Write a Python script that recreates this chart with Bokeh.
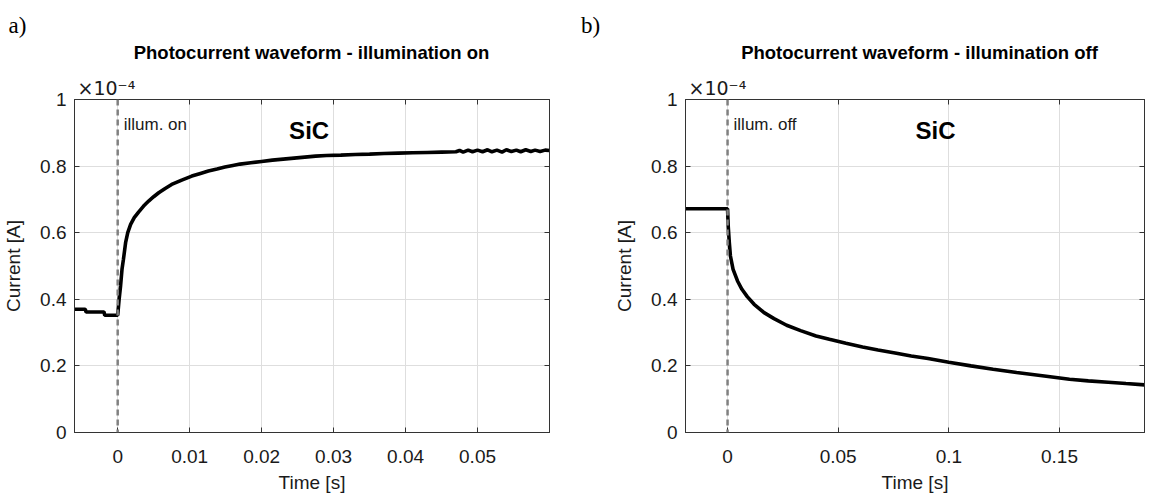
from bokeh.plotting import figure
from bokeh.models import Range1d, Span, Label, FixedTicker, Title, LinearAxis
from bokeh.layouts import row, column
from bokeh.embed import file_html
from bokeh.resources import INLINE

# ---------------- data (current in units of 1e-4 A) ----------------
t_on = [-0.006, -0.0045, -0.0044, -0.0019, -0.0018, 0.0, 0.0002, 0.0004, 0.0006,
        0.0008, 0.0011, 0.0014, 0.0018, 0.0023, 0.0029, 0.0036, 0.0043, 0.0050,
        0.0057, 0.0066, 0.0075, 0.0089, 0.0103, 0.0115, 0.0126, 0.0138, 0.0149,
        0.0160, 0.0170, 0.0185, 0.0200, 0.0215, 0.0230, 0.0245, 0.0260, 0.0275,
        0.0290, 0.0310, 0.0330, 0.0350, 0.0370, 0.0390, 0.0410, 0.0430, 0.0450,
        0.0470, 0.0475, 0.0480, 0.0487, 0.0493, 0.0500, 0.0507, 0.0514, 0.0520,
        0.0527, 0.0534, 0.0540, 0.0547, 0.0554, 0.0560, 0.0567, 0.0574, 0.0580,
        0.0587, 0.0594, 0.0600]
i_on = [0.370, 0.370, 0.362, 0.362, 0.352, 0.352, 0.400, 0.440, 0.490,
        0.520, 0.570, 0.600, 0.625, 0.645, 0.662, 0.680, 0.695, 0.708,
        0.720, 0.733, 0.745, 0.758, 0.770, 0.778, 0.785, 0.791, 0.797,
        0.802, 0.806, 0.810, 0.814, 0.818, 0.821, 0.824, 0.827, 0.830,
        0.832, 0.833, 0.835, 0.836, 0.838, 0.839, 0.840, 0.841, 0.842,
        0.843, 0.847, 0.842, 0.848, 0.843, 0.848, 0.843, 0.849, 0.843,
        0.848, 0.842, 0.849, 0.844, 0.848, 0.843, 0.849, 0.844, 0.848,
        0.844, 0.848, 0.847]

t_off = [-0.019, 0.0, 0.0003, 0.0008, 0.0013, 0.0025, 0.0045, 0.0065, 0.0089,
         0.0120, 0.0165, 0.0210, 0.0267, 0.0330, 0.0400, 0.0460, 0.0535, 0.0610,
         0.0680, 0.0757, 0.0830, 0.0906, 0.1000, 0.1100, 0.1200, 0.1306, 0.1440,
         0.1545, 0.1630, 0.1720, 0.1800, 0.1884]
i_off = [0.672, 0.672, 0.620, 0.570, 0.530, 0.490, 0.455, 0.430, 0.408,
         0.385, 0.360, 0.342, 0.322, 0.306, 0.290, 0.280, 0.268, 0.257,
         0.248, 0.239, 0.230, 0.222, 0.211, 0.200, 0.190, 0.180, 0.169,
         0.160, 0.155, 0.151, 0.147, 0.143]

y_ticks = [0, 0.2, 0.4, 0.6, 0.8, 1.0]
y_tick_labels = ["0", "0.2", "0.4", "0.6", "0.8", "1"]
x_ticks_on = [0, 0.01, 0.02, 0.03, 0.04, 0.05]
x_tick_labels_on = ["0", "0.01", "0.02", "0.03", "0.04", "0.05"]
x_ticks_off = [0, 0.05, 0.1, 0.15]
x_tick_labels_off = ["0", "0.05", "0.1", "0.15"]

FONT = "Liberation Sans"
TXT = "#1a1a1a"
AX = "#333333"
HEAD_H = 71
TOP = 28
BOTTOM = 65
PLOT_H = TOP + 333 + BOTTOM

W1, BL1, BR1 = 581, 74, 32
W2, BL2, BR2 = 564, 104, 1
WT = W1 + W2

# ---------------- header (panel letters and titles) ----------------
head = figure(width=WT, height=HEAD_H, output_backend="svg",
              toolbar_location=None, x_axis_type=None, y_axis_type=None,
              x_range=Range1d(0, WT), y_range=Range1d(HEAD_H, 0),
              min_border_left=0, min_border_right=0, min_border_top=0,
              min_border_bottom=0, title=None)
head.outline_line_color = None
head.grid.visible = False
head.background_fill_color = "white"
head.border_fill_color = "white"

for lx, letter in ((17, "a)"), (W1 + 9, "b)")):
    head.add_layout(Label(x=lx, y=25, text=letter,
                          text_font="Liberation Serif", text_font_size="23px",
                          text_color="black", text_align="center",
                          text_baseline="middle"))
for tx, title in ((311, "Photocurrent waveform - illumination on"),
                  (W1 + 338, "Photocurrent waveform - illumination off")):
    head.add_layout(Label(x=tx, y=52, text=title,
                          text_font=FONT, text_font_size="18.5px",
                          text_font_style="bold", text_color="black",
                          text_align="center", text_baseline="middle"))


def tick_only_axis(ticks):
    # box ticks only: labels are not drawn (no colour)
    return LinearAxis(ticker=FixedTicker(ticks=ticks),
                      major_label_text_font_size="1px",
                      major_label_text_color=None,
                      major_label_standoff=0,
                      major_tick_in=5, major_tick_out=0,
                      minor_tick_line_color=None,
                      axis_line_color=AX, major_tick_line_color=AX)


def make_panel(width, bl, br, xr, xticks, xlabels, t, i, illum_text, sic_x):
    p = figure(width=width, height=PLOT_H, output_backend="svg",
               toolbar_location=None, title=None,
               x_range=Range1d(*xr), y_range=Range1d(0, 1),
               min_border_left=bl, min_border_right=br,
               min_border_top=TOP, min_border_bottom=BOTTOM)
    p.background_fill_color = "white"
    p.border_fill_color = "white"
    p.outline_line_color = AX
    p.outline_line_width = 1

    for ax in (p.xaxis[0], p.yaxis[0]):
        ax.major_tick_in = 5
        ax.major_tick_out = 0
        ax.minor_tick_line_color = None
        ax.axis_line_color = AX
        ax.major_tick_line_color = AX
        ax.major_label_text_font = FONT
        ax.major_label_text_font_size = "19px"
        ax.major_label_text_color = TXT
        ax.axis_label_text_font = FONT
        ax.axis_label_text_font_size = "19px"
        ax.axis_label_text_font_style = "normal"
        ax.axis_label_text_color = TXT

    p.xaxis[0].ticker = FixedTicker(ticks=xticks)
    p.xaxis[0].major_label_overrides = {v: s for v, s in zip(xticks, xlabels)}
    p.yaxis[0].ticker = FixedTicker(ticks=y_ticks)
    p.yaxis[0].major_label_overrides = {v: s for v, s in zip(y_ticks, y_tick_labels)}
    p.xaxis[0].axis_label = "Time [s]"
    p.yaxis[0].axis_label = "Current [A]"
    p.xaxis[0].major_label_standoff = 17
    p.xaxis[0].axis_label_standoff = 6
    p.yaxis[0].major_label_standoff = 8
    p.yaxis[0].axis_label_standoff = 13

    # inward ticks on the top and right edges of the box
    p.add_layout(tick_only_axis(xticks), "above")
    p.add_layout(tick_only_axis(y_ticks), "right")

    p.grid.grid_line_color = "#dedede"
    p.grid.grid_line_width = 1

    p.add_layout(Title(text="\u00d710\u207b\u2074", align="left", offset=3,
                       text_font="DejaVu Sans", text_font_size="19px",
                       text_font_style="normal", text_color=TXT,
                       standoff=2), "above")

    p.add_layout(Span(location=0, dimension="height", line_color="#808080",
                      line_width=2.5, line_dash="6 4"))

    p.line(t, i, line_color="black", line_width=3.6)

    p.add_layout(Label(x=0, y=0.925, x_offset=6, text=illum_text,
                       text_font=FONT, text_font_size="17px", text_color=TXT,
                       text_align="left", text_baseline="middle"))
    p.add_layout(Label(x=sic_x, y=0.907, text="SiC",
                       text_font=FONT, text_font_size="24px",
                       text_font_style="bold", text_color="black",
                       text_align="center", text_baseline="middle"))
    return p


p1 = make_panel(W1, BL1, BR1, (-0.006, 0.06), x_ticks_on, x_tick_labels_on,
                t_on, i_on, "illum. on", 0.0266)
p2 = make_panel(W2, BL2, BR2, (-0.019, 0.1884), x_ticks_off, x_tick_labels_off,
                t_off, i_off, "illum. off", 0.094)

layout = column(head, row(p1, p2))
open("out.html", "w").write(file_html(layout, INLINE))
